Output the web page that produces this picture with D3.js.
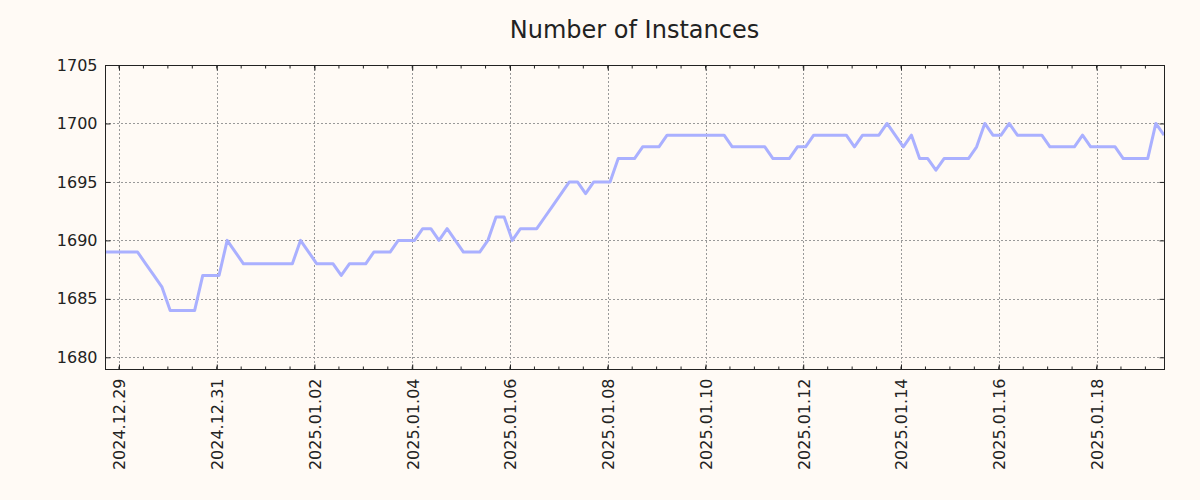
<!DOCTYPE html>
<html>
<head>
<meta charset="utf-8">
<script src="https://cdn.jsdelivr.net/npm/d3@7"></script>
<style>
  html, body { margin: 0; padding: 0; background: #fffaf5; }
  svg { display: block; }
  text { font-family: "DejaVu Sans", sans-serif; fill: #222; }
</style>
</head>
<body>
<svg id="chart" width="1200" height="500"></svg>
<script>
// ---- data ----
const title = "Number of Instances";
const startTime = "2024-12-28T17:08:00Z";   // first sample
const stepHours = 4;                         // sampling interval
const instances = [
  1689,1689,1689,1689,1689,1688,1687,1686,1684,1684,
  1684,1684,1687,1687,1687,1690,1689,1688,1688,1688,
  1688,1688,1688,1688,1690,1689,1688,1688,1688,1687,
  1688,1688,1688,1689,1689,1689,1690,1690,1690,1691,
  1691,1690,1691,1690,1689,1689,1689,1690,1692,1692,
  1690,1691,1691,1691,1692,1693,1694,1695,1695,1694,
  1695,1695,1695,1697,1697,1697,1698,1698,1698,1699,
  1699,1699,1699,1699,1699,1699,1699,1698,1698,1698,
  1698,1698,1697,1697,1697,1698,1698,1699,1699,1699,
  1699,1699,1698,1699,1699,1699,1700,1699,1698,1699,
  1697,1697,1696,1697,1697,1697,1697,1698,1700,1699,
  1699,1700,1699,1699,1699,1699,1698,1698,1698,1698,
  1699,1698,1698,1698,1698,1697,1697,1697,1697,1700,
  1699
];
const xTickLabels = ["2024.12.29","2024.12.31","2025.01.02","2025.01.04","2025.01.06",
                     "2025.01.08","2025.01.10","2025.01.12","2025.01.14","2025.01.16","2025.01.18"];
const yTicks = [1680, 1685, 1690, 1695, 1700, 1705];
const yDomain = [1679, 1705];

// ---- layout ----
const W = 1200, H = 500;
const m = { left: 105, right: 1164, top: 65, bottom: 369 };
const svg = d3.select("#chart");

const t0 = new Date(startTime);
const data = instances.map((v, i) => ({ t: d3.utcHour.offset(t0, i * stepHours), v }));

const parseLbl = d3.utcParse("%Y.%m.%d");
const fmtLbl = d3.utcFormat("%Y.%m.%d");
const majorTicks = xTickLabels.map(parseLbl);

const x = d3.scaleUtc().domain(d3.extent(data, d => d.t)).range([m.left, m.right]);
const y = d3.scaleLinear().domain(yDomain).range([m.bottom, m.top]);
const minorTicks = d3.utcHour.every(12).range(x.domain()[0], x.domain()[1]);

svg.append("rect").attr("width", W).attr("height", H).attr("fill", "#fffaf5");

// grid
const grid = svg.append("g").attr("stroke", "#999").attr("stroke-width", 1).attr("stroke-dasharray", "2,2");
grid.selectAll("line.vx").data(majorTicks).join("line")
  .attr("x1", d => Math.round(x(d)) + 0.5).attr("x2", d => Math.round(x(d)) + 0.5)
  .attr("y1", m.top).attr("y2", m.bottom);
grid.selectAll("line.hy").data(yTicks).join("line")
  .attr("y1", d => Math.round(y(d)) + 0.5).attr("y2", d => Math.round(y(d)) + 0.5)
  .attr("x1", m.left).attr("x2", m.right);

// line
const line = d3.line().x(d => x(d.t)).y(d => y(d.v));
svg.append("path").datum(data)
  .attr("fill", "none").attr("stroke", "#aab0ff").attr("stroke-width", 3)
  .attr("stroke-linejoin", "round")
  .attr("d", line);

// axes (ticks pointing inward)
const axB = svg.append("g").attr("transform", `translate(0,${m.bottom + 0.5})`)
  .call(d3.axisBottom(x).tickValues(majorTicks).tickSize(-5).tickFormat(fmtLbl).tickSizeOuter(0));
axB.append("g").selectAll("line").data(minorTicks).join("line")
  .attr("x1", d => x(d)).attr("x2", d => x(d)).attr("y1", 0).attr("y2", -3).attr("stroke", "#222");
axB.selectAll(".tick text")
  .attr("transform", "rotate(-90)")
  .attr("text-anchor", "end")
  .attr("x", -9).attr("y", 0).attr("dy", "0.36em");

const axT = svg.append("g").attr("transform", `translate(0,${m.top + 0.5})`)
  .call(d3.axisTop(x).tickValues(majorTicks).tickSize(-5).tickFormat("").tickSizeOuter(0));
axT.append("g").selectAll("line").data(minorTicks).join("line")
  .attr("x1", d => x(d)).attr("x2", d => x(d)).attr("y1", 0).attr("y2", 3).attr("stroke", "#222");

const axL = svg.append("g").attr("transform", `translate(${m.left + 0.5},0)`)
  .call(d3.axisLeft(y).tickValues(yTicks).tickSize(-5).tickFormat(d3.format("d")).tickSizeOuter(0));
axL.selectAll(".tick text").attr("x", -8);

const axR = svg.append("g").attr("transform", `translate(${m.right + 0.5},0)`)
  .call(d3.axisRight(y).tickValues(yTicks).tickSize(-5).tickFormat("").tickSizeOuter(0));

svg.selectAll(".domain").remove();
svg.selectAll(".tick line").attr("stroke", "#222");
svg.selectAll(".tick text").attr("font-size", 16).attr("font-family", "DejaVu Sans").attr("fill", "#222");

// frame
svg.append("rect")
  .attr("x", m.left + 0.5).attr("y", m.top + 0.5)
  .attr("width", m.right - m.left).attr("height", m.bottom - m.top)
  .attr("fill", "none").attr("stroke", "#222").attr("stroke-width", 1);

// title
svg.append("text").attr("x", (m.left + m.right) / 2).attr("y", 38)
  .attr("text-anchor", "middle").attr("font-size", 24).attr("fill", "#222")
  .text(title);
</script>
</body>
</html>
